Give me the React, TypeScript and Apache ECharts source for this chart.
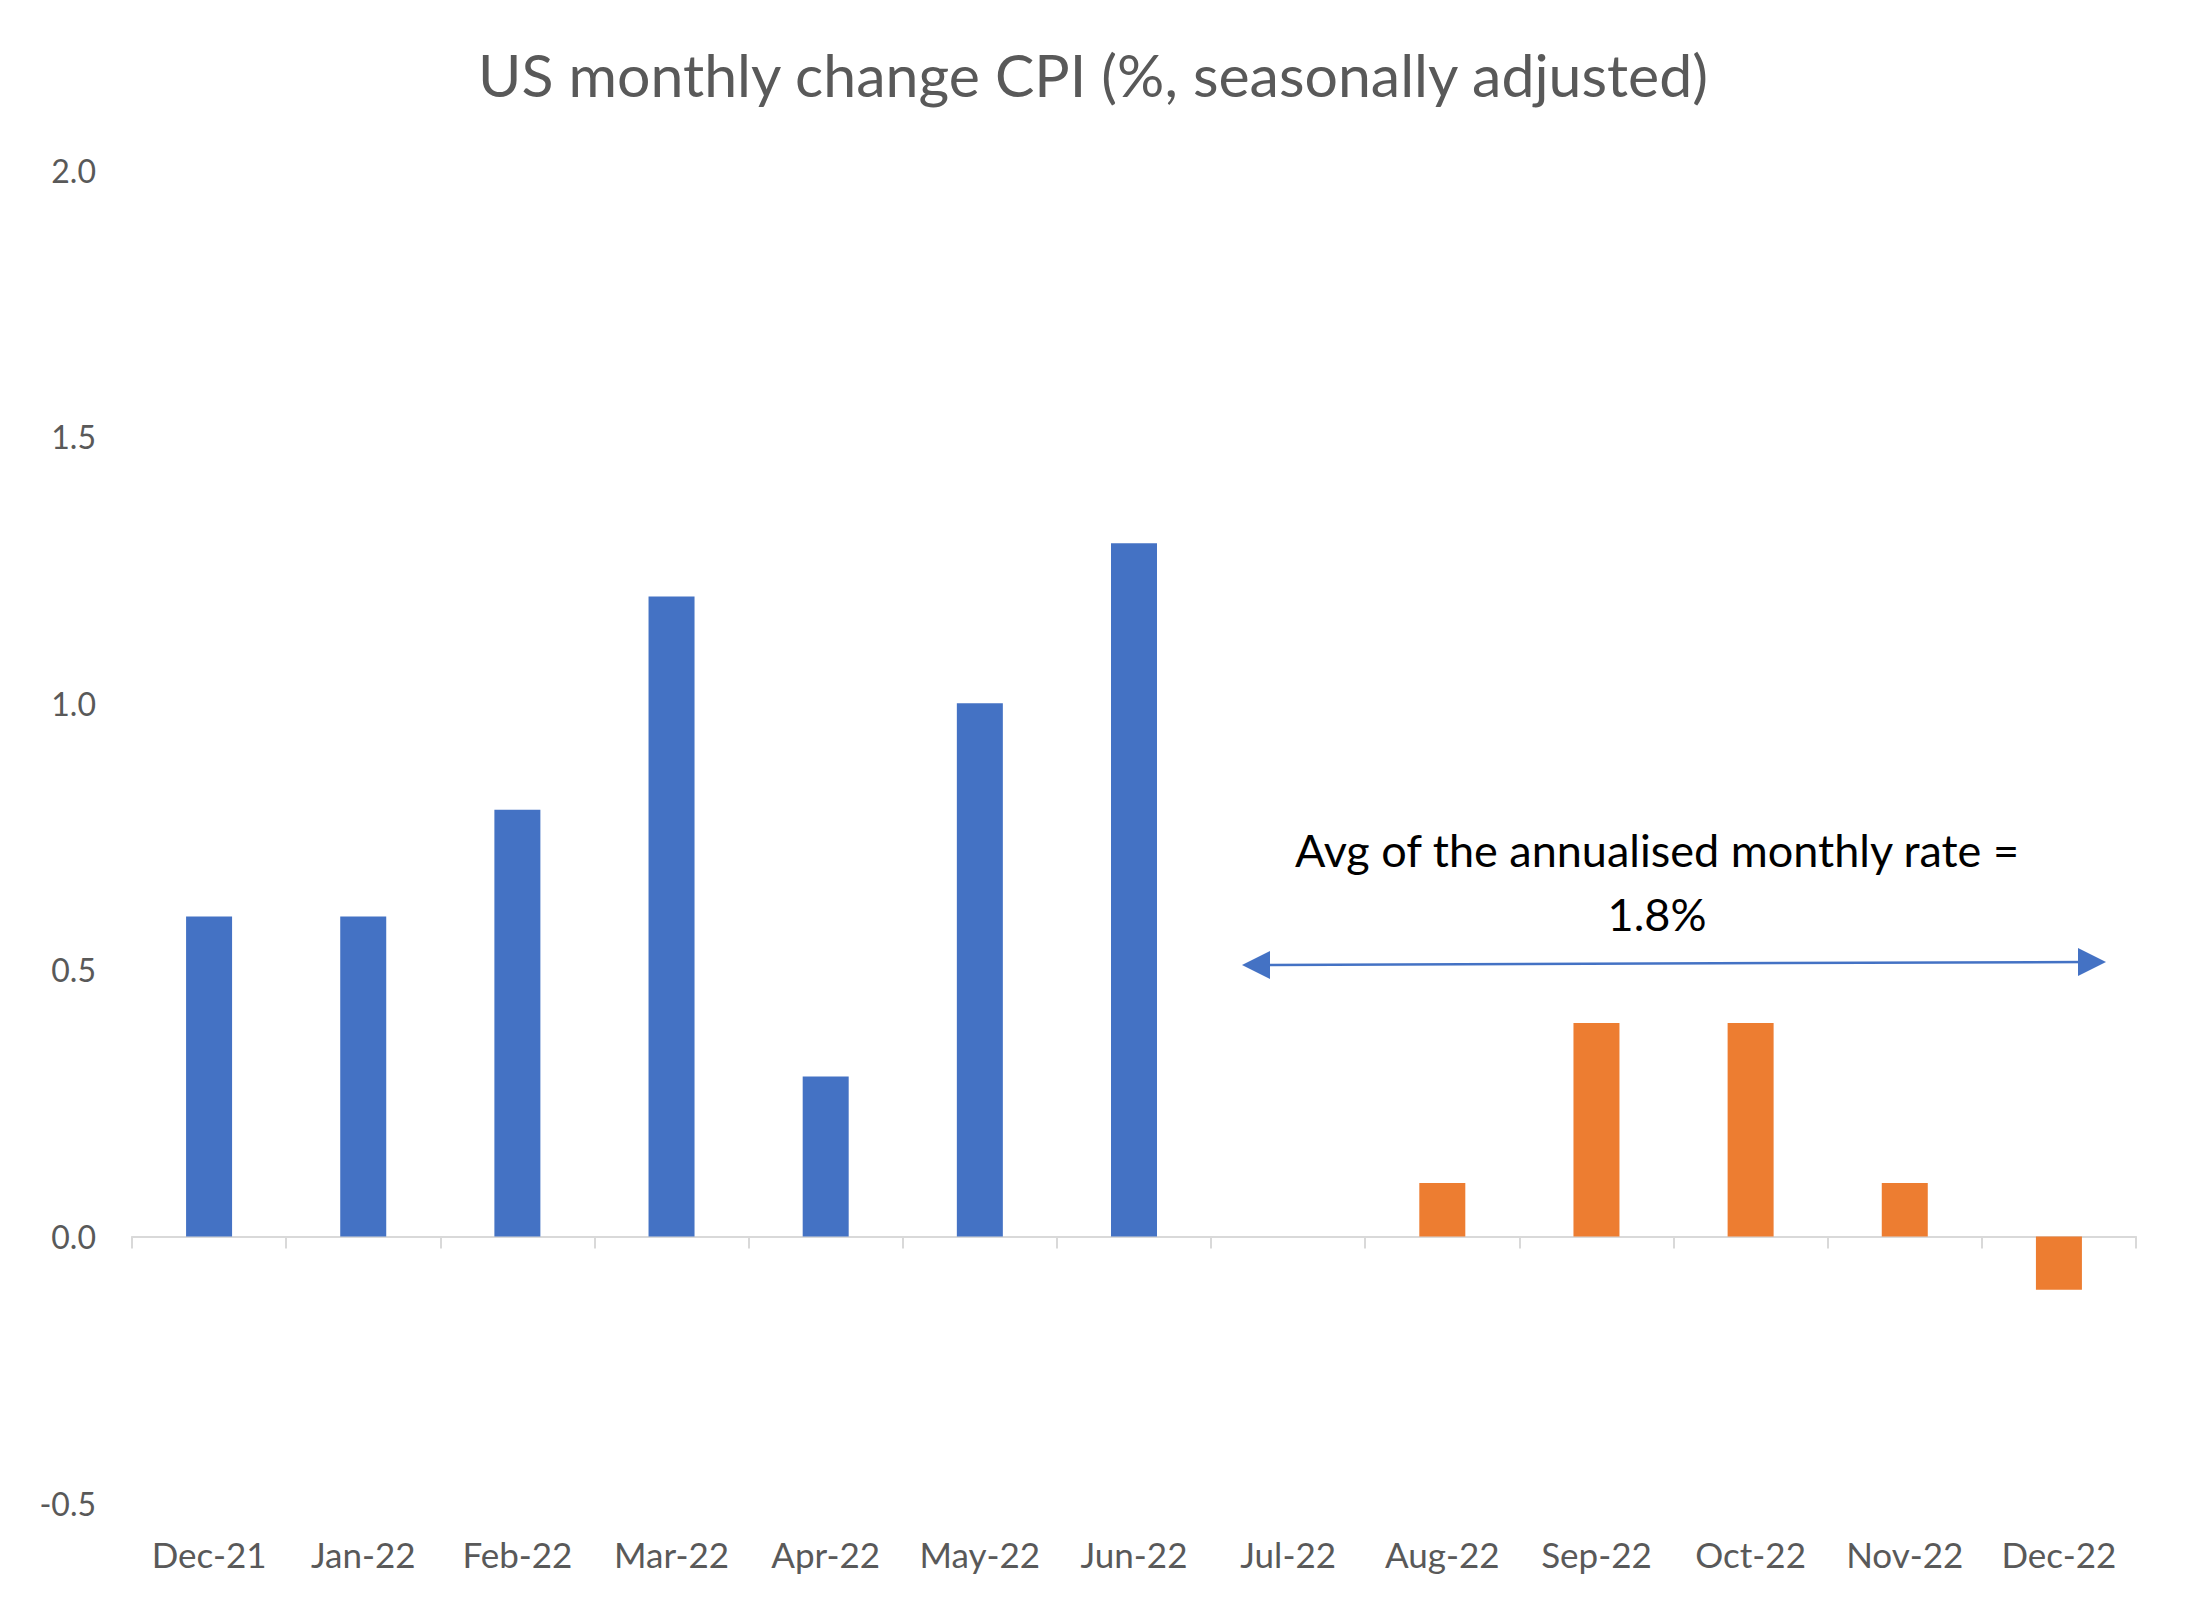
import React, { useEffect, useRef } from "react";
import * as echarts from "echarts";

const categories = ["Dec-21", "Jan-22", "Feb-22", "Mar-22", "Apr-22", "May-22", "Jun-22", "Jul-22", "Aug-22", "Sep-22", "Oct-22", "Nov-22", "Dec-22"];
const firstHalf = [0.6, 0.6, 0.8, 1.2, 0.3, 1.0, 1.3, null, null, null, null, null, null];
const secondHalf = [null, null, null, null, null, null, null, 0.0, 0.1, 0.4, 0.4, 0.1, -0.1];
const titleText = "US monthly change CPI (%, seasonally adjusted)";
const noteLines = ["Avg of the annualised monthly rate =", "1.8%"];

const FONT = "Lato, 'Open Sans', sans-serif";
const GREY = "#595959";
const BLUE = "#4472C4";
const ORANGE = "#ED7D31";

export default function App() {
  const ref = useRef<HTMLDivElement>(null);
  useEffect(() => {
    document.body.style.margin = "0";
    const chart = echarts.init(ref.current!, null, { renderer: "svg" });
    const ax1 = 1242, ay1 = 965, ax2 = 2106, ay2 = 962;
    chart.setOption({
      animation: false,
      backgroundColor: "#ffffff",
      title: {
        text: titleText,
        left: "center",
        top: 40,
        textStyle: { fontFamily: FONT, fontSize: 59, fontWeight: "normal", color: GREY },
      },
      grid: { left: 132, right: 50, top: 170, bottom: 106 },
      xAxis: [
        {
          type: "category",
          data: categories,
          position: "bottom",
          axisLine: { onZero: true, lineStyle: { color: "#D9D9D9", width: 2 } },
          axisTick: { show: true, length: 12, lineStyle: { color: "#D9D9D9", width: 2 } },
          axisLabel: { show: false },
          splitLine: { show: false },
        },
        {
          type: "category",
          data: categories,
          position: "bottom",
          axisLine: { show: false, onZero: false },
          axisTick: { show: false },
          axisLabel: { show: true, interval: 0, margin: 33, color: GREY, fontFamily: FONT, fontSize: 35 },
          splitLine: { show: false },
        },
      ],
      yAxis: {
        type: "value",
        min: -0.5,
        max: 2,
        interval: 0.5,
        axisLine: { show: false },
        axisTick: { show: false },
        splitLine: { show: false },
        axisLabel: {
          color: GREY,
          fontFamily: FONT,
          fontSize: 32,
          margin: 36,
          formatter: (v: number) => v.toFixed(1),
        },
      },
      series: [
        {
          type: "bar",
          name: "H1",
          stack: "s",
          xAxisIndex: 0,
          data: firstHalf,
          barWidth: 46,
          itemStyle: { color: BLUE },
        },
        {
          type: "bar",
          name: "H2",
          stack: "s",
          xAxisIndex: 0,
          data: secondHalf,
          barWidth: 46,
          itemStyle: { color: ORANGE },
        },
      ],
      graphic: [
        {
          type: "text",
          x: 1657,
          y: 850,
          style: {
            text: noteLines[0],
            fontFamily: FONT,
            fontSize: 45,
            fill: "#000000",
            textAlign: "center",
            textVerticalAlign: "middle",
          },
        },
        {
          type: "text",
          x: 1657,
          y: 914,
          style: {
            text: noteLines[1],
            fontFamily: FONT,
            fontSize: 45,
            fill: "#000000",
            textAlign: "center",
            textVerticalAlign: "middle",
          },
        },
        {
          type: "line",
          shape: { x1: ax1 + 20, y1: ay1, x2: ax2 - 20, y2: ay2 },
          style: { stroke: BLUE, lineWidth: 2.5 },
        },
        {
          type: "polygon",
          shape: { points: [[ax1, ay1], [ax1 + 28, ay1 - 14], [ax1 + 28, ay1 + 14]] },
          style: { fill: BLUE },
        },
        {
          type: "polygon",
          shape: { points: [[ax2, ay2], [ax2 - 28, ay2 - 14], [ax2 - 28, ay2 + 14]] },
          style: { fill: BLUE },
        },
      ],
    });
    return () => chart.dispose();
  }, []);
  return <div ref={ref} style={{ position: "absolute", left: 0, top: 0, width: 2186, height: 1609 }} />;
}
